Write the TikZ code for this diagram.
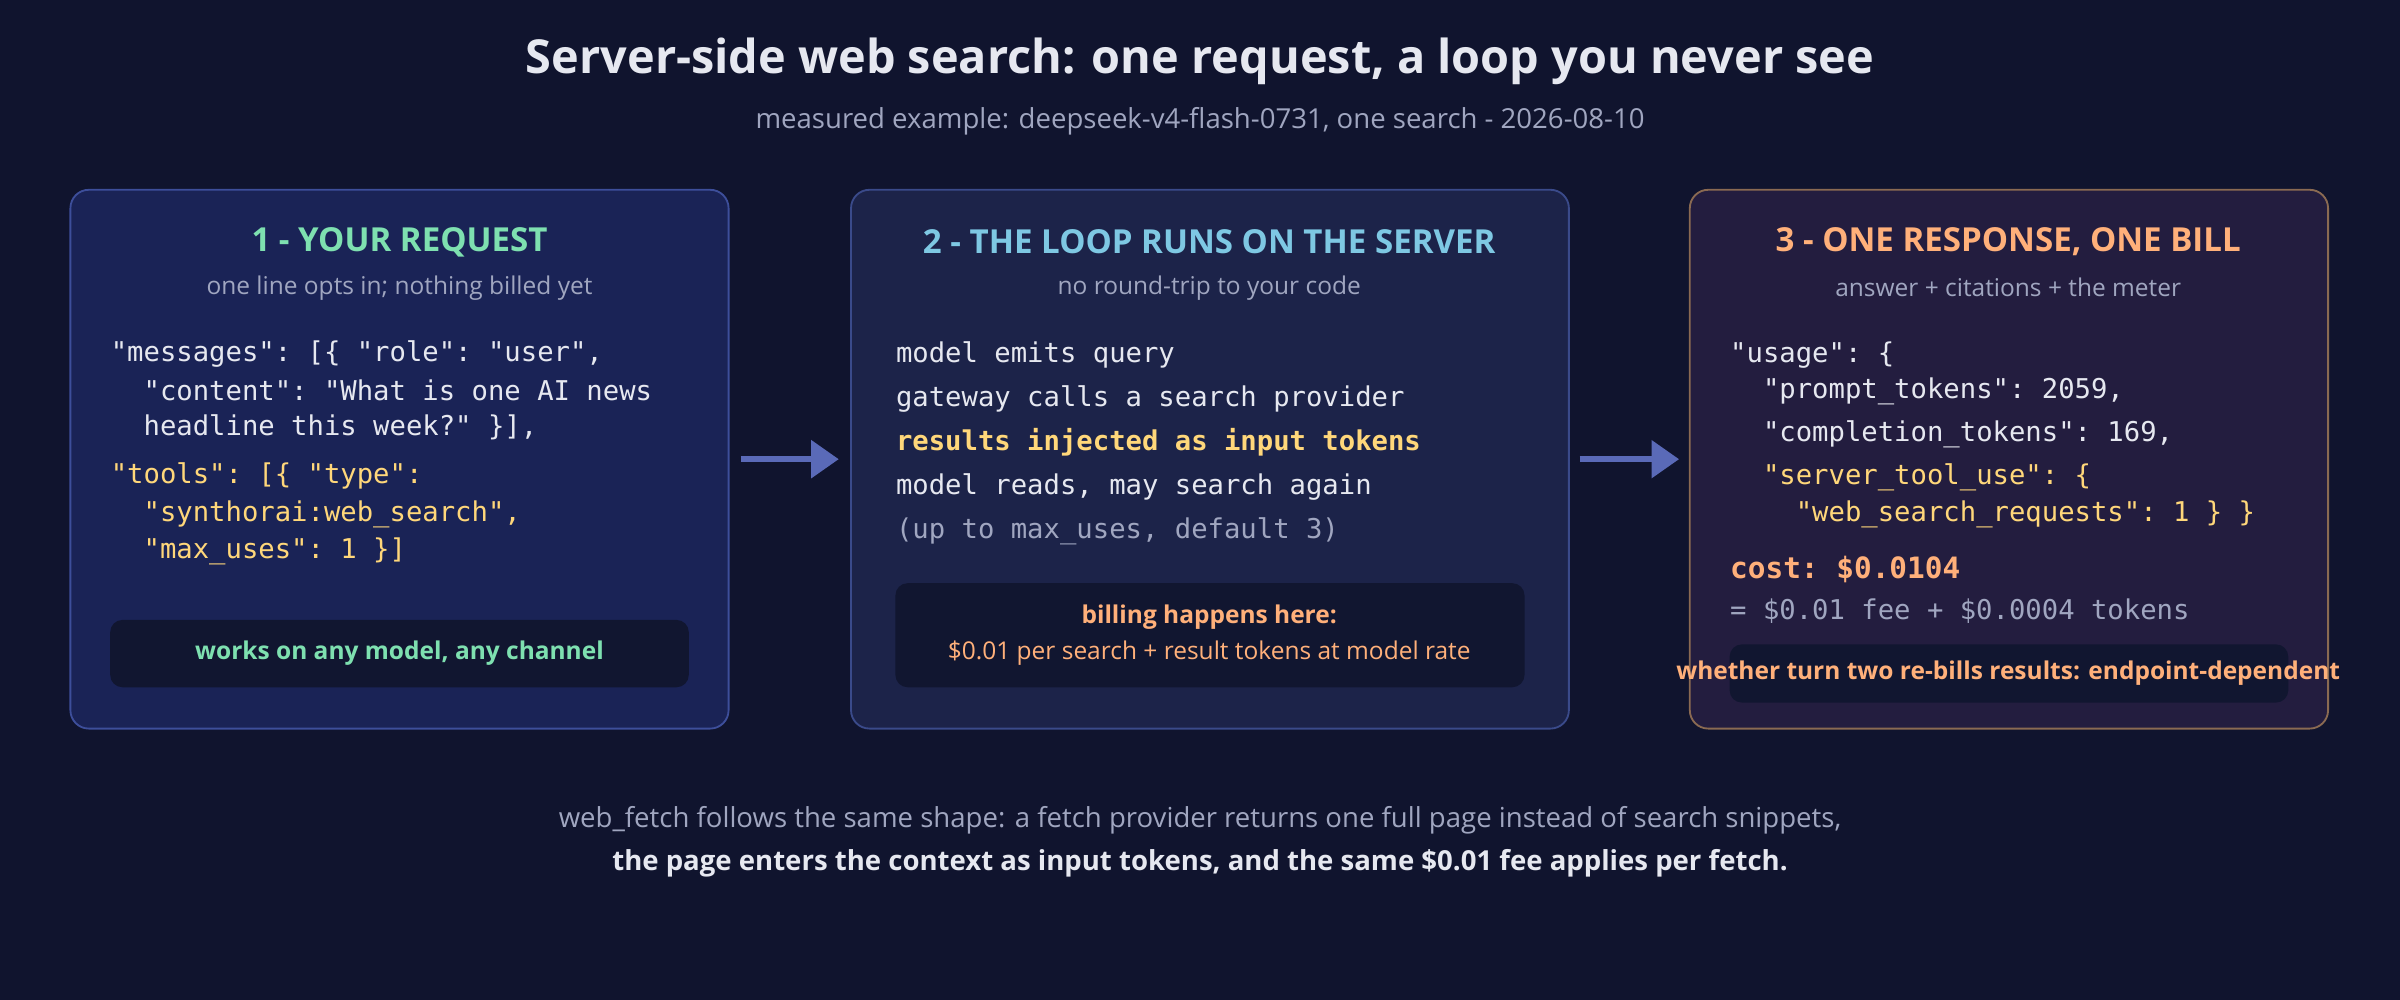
\documentclass[tikz,border=0pt]{standalone}
\usepackage{fontspec}
\setmainfont{Open Sans}
\setmonofont{DejaVu Sans Mono}
\usetikzlibrary{arrows.meta,positioning}
\definecolor{bg}{HTML}{10142E}
\definecolor{fillA}{HTML}{1A2356}
\definecolor{lineA}{HTML}{3D4E9A}
\definecolor{fillB}{HTML}{1C2349}
\definecolor{lineB}{HTML}{3A4A8A}
\definecolor{fillC}{HTML}{231D3F}
\definecolor{lineC}{HTML}{8A6A52}
\definecolor{inner}{HTML}{111630}
\definecolor{txt}{HTML}{E6E8F0}
\definecolor{dim}{HTML}{A0A6C0}
\definecolor{green}{HTML}{7EE0B0}
\definecolor{cyan}{HTML}{7EC8E3}
\definecolor{orange}{HTML}{FFB07A}
\definecolor{yellow}{HTML}{FFD77A}
\definecolor{arrowc}{HTML}{5A6AB8}
\tikzset{
  panel/.style={draw=#1, line width=0.6pt, rounded corners=6pt},
  box/.style={fill=inner, rounded corners=4pt},
  head/.style={font=\fontsize{10.8}{13}\selectfont\bfseries, inner sep=0pt},
  sub/.style={text=dim, font=\fontsize{8}{10}\selectfont, inner sep=0pt},
  code/.style={anchor=west, text=txt, font=\ttfamily\fontsize{8.9}{11}\selectfont, inner sep=0pt},
  flow/.style={-{Triangle[length=9pt,width=12pt]}, draw=arrowc, line width=2pt}
}
\begin{document}
\begin{tikzpicture}[x=0.5pt, y=-0.5pt]
\fill[bg] (0,0) rectangle (1568,653);
% title
\node[text=txt, font=\fontsize{15.3}{18}\selectfont\bfseries, inner sep=0pt] (title) at (784,40) {Server-side web search: one request, a loop you never see};
\node[sub, font=\fontsize{9}{11}\selectfont] (subtitle) at (784,79) {measured example: deepseek-v4-flash-0731, one search - 2026-08-10};
% panels
\filldraw[panel=lineA, fill=fillA] (46,124) rectangle (476,476);
\filldraw[panel=lineB, fill=fillB] (556,124) rectangle (1025,476);
\filldraw[panel=lineC, fill=fillC] (1104,124) rectangle (1521,476);
\node[head, text=green] (h1) at (261,158) {1 - YOUR REQUEST};
\node[head, text=cyan] (h2) at (790,158) {2 - THE LOOP RUNS ON THE SERVER};
\node[head, text=orange] (h3) at (1312,158) {3 - ONE RESPONSE, ONE BILL};
\node[sub] (s1) at (261,188) {one line opts in; nothing billed yet};
\node[sub] (s2) at (790,188) {no round-trip to your code};
\node[sub] (s3) at (1312,188) {answer + citations + the meter};
% panel 1
\node[code] (r1) at (72,231) {"messages": [\{ "role": "user",};
\node[code] (r2) at (72,255) {\ \ "content": "What is one AI news};
\node[code] (r3) at (72,279) {\ \ headline this week?" \}],};
\node[code, text=yellow] (r4) at (72,311) {"tools": [\{ "type":};
\node[code, text=yellow] (r5) at (72,336) {\ \ "synthorai:web\_search",};
\node[code, text=yellow] (r6) at (72,360) {\ \ "max\_uses": 1 \}]};
\fill[box] (72,405) rectangle (450,449);
\node[font=\fontsize{8}{10}\selectfont\bfseries, text=green] (n1) at (261,427) {works on any model, any channel};
% panel 2
\node[code] (l1) at (585,232) {model emits query};
\node[code] (l2) at (585,261) {gateway calls a search provider};
\node[code, text=yellow, font=\ttfamily\bfseries\fontsize{8.9}{11}\selectfont] (l3) at (585,289) {results injected as input tokens};
\node[code] (l4) at (585,318) {model reads, may search again};
\node[code, text=dim] (l5) at (585,347) {(up to max\_uses, default 3)};
\fill[box] (585,381) rectangle (996,449);
\node[font=\fontsize{8}{10}\selectfont\bfseries, text=orange] (n2) at (790,403) {billing happens here:};
\node[font=\fontsize{8}{10}\selectfont, text=orange] (n3) at (790,427) {\$0.01 per search + result tokens at model rate};
% panel 3
\node[code] (u1) at (1130,232) {"usage": \{};
\node[code] (u2) at (1130,256) {\ \ "prompt\_tokens": 2059,};
\node[code] (u3) at (1130,284) {\ \ "completion\_tokens": 169,};
\node[code, text=yellow] (u4) at (1130,312) {\ \ "server\_tool\_use": \{};
\node[code, text=yellow] (u5) at (1130,336) {\ \ \ \ "web\_search\_requests": 1 \} \}};
\node[code, text=orange, font=\ttfamily\bfseries\fontsize{9.6}{12}\selectfont] (cost) at (1130,372) {cost: \$0.0104};
\node[code, text=dim] (fee) at (1130,399) {= \$0.01 fee + \$0.0004 tokens};
\fill[box] (1130,421) rectangle (1495,459);
\node[font=\fontsize{8}{10}\selectfont\bfseries, text=orange] (n4) at (1312,440) {whether turn two re-bills results: endpoint-dependent};
% arrows
\coordinate (a1) at (484,300); \coordinate (b1) at (548,300);
\coordinate (a2) at (1032,300); \coordinate (b2) at (1097,300);
\draw[flow] (a1) -- (b1);
\draw[flow] (a2) -- (b2);
% footer
\node[sub, font=\fontsize{9}{11}\selectfont] (f1) at (784,536) {web\_fetch follows the same shape: a fetch provider returns one full page instead of search snippets,};
\node[text=txt, font=\fontsize{9}{11}\selectfont\bfseries, inner sep=0pt] (f2) at (784,564) {the page enters the context as input tokens, and the same \$0.01 fee applies per fetch.};
\end{tikzpicture}
\end{document}
